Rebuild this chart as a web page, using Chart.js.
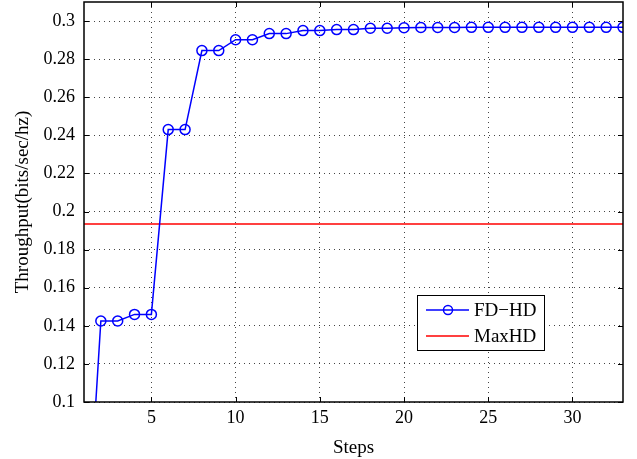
<!DOCTYPE html>
<html>
<head>
<meta charset="utf-8">
<script src="https://cdn.jsdelivr.net/npm/chart.js@4/dist/chart.umd.min.js"></script>
<style>
html,body{margin:0;padding:0;background:#fff;}
#wrap{position:relative;width:637px;height:459px;}
</style>
</head>
<body>
<div id="wrap"><canvas id="c" width="637" height="459"></canvas></div>
<script>
const steps = [1,2,3,4,5,6,7,8,9,10,11,12,13,14,15,16,17,18,19,20,21,22,23,24,25,26,27,28,29,30,31,32,33];
const fdhd = [0,0.1425,0.1425,0.146,0.146,0.243,0.243,0.2845,0.2845,0.2902,0.2902,0.2934,0.2934,0.295,0.295,0.2955,0.2955,0.2962,0.2962,0.2965,0.2966,0.2966,0.2966,0.2967,0.2967,0.2967,0.2967,0.2967,0.2967,0.2967,0.2967,0.2967,0.2967];
const maxHD = 0.1935;
const xTicks = [5,10,15,20,25,30];
const yTicks = [0.1,0.12,0.14,0.16,0.18,0.2,0.22,0.24,0.26,0.28,0.3];
const seriesLabels = ['FD\u2212HD','MaxHD'];
const axisTitles = {x:'Steps', y:'Throughput(bits/sec/hz)'};

const FONT = '"Liberation Serif", "Times New Roman", serif';

const frame = {
  id:'frame',
  afterDraw(chart){
    const {ctx, chartArea:a, scales} = chart;
    ctx.save();
    ctx.strokeStyle = '#000';
    ctx.lineWidth = 1;
    ctx.beginPath();
    xTicks.forEach(v=>{
      const x = Math.round(scales.x.getPixelForValue(v))+0.5;
      ctx.moveTo(x,a.bottom); ctx.lineTo(x,a.bottom-5);
      ctx.moveTo(x,a.top); ctx.lineTo(x,a.top+5);
    });
    yTicks.forEach(v=>{
      const y = Math.round(scales.y.getPixelForValue(v))+0.5;
      ctx.moveTo(a.left,y); ctx.lineTo(a.left+5,y);
      ctx.moveTo(a.right,y); ctx.lineTo(a.right-5,y);
    });
    ctx.stroke();
    ctx.lineWidth = 1.5;
    ctx.strokeRect(a.left, a.top, a.right-a.left, a.bottom-a.top);
    // y title
    ctx.fillStyle='#000';
    ctx.font='19px '+FONT;
    ctx.textAlign='center';
    ctx.textBaseline='middle';
    ctx.save();
    ctx.translate(23,(a.top+a.bottom)/2);
    ctx.rotate(-Math.PI/2);
    ctx.fillText(axisTitles.y,0,0);
    ctx.restore();
    // legend
    const lx=417, ly=295, lw=127, lh=55;
    ctx.fillStyle='#fff';
    ctx.fillRect(lx,ly,lw,lh);
    ctx.lineWidth=1;
    ctx.strokeStyle='#000';
    ctx.strokeRect(lx+0.5,ly+0.5,lw,lh);
    const ds = chart.data.datasets;
    const rows=[310,336];
    rows.forEach((ry,i)=>{
      ctx.strokeStyle = ds[i].borderColor;
      ctx.lineWidth = 1.5;
      ctx.beginPath(); ctx.moveTo(426,ry); ctx.lineTo(469,ry); ctx.stroke();
      if(i===0){
        ctx.beginPath(); ctx.arc(448,ry,4.5,0,Math.PI*2); ctx.stroke();
      }
      ctx.fillStyle='#000';
      ctx.font='19px '+FONT;
      ctx.textBaseline='middle';
      ctx.textAlign='left';
      ctx.fillText(ds[i].label,474,ry+1);
    });
    ctx.restore();
  }
};

new Chart(document.getElementById('c'),{
  type:'line',
  data:{
    datasets:[
      {label:seriesLabels[0], data:steps.map((s,i)=>({x:s,y:fdhd[i]})), borderColor:'#0000ff', backgroundColor:'rgba(0,0,0,0)', borderWidth:1.5, pointRadius:5, pointBorderWidth:1.5, pointBorderColor:'#0000ff', pointBackgroundColor:'rgba(0,0,0,0)', tension:0},
      {label:seriesLabels[1], data:[{x:steps[0],y:maxHD},{x:steps[steps.length-1],y:maxHD}], borderColor:'#ff0000', borderWidth:1.5, pointRadius:0, tension:0}
    ]
  },
  options:{
    responsive:false,
    animation:false,
    devicePixelRatio:1,
    layout:{autoPadding:false, padding:{top:2,right:14,left:0,bottom:0}},
    plugins:{legend:{display:false}, tooltip:{enabled:false}},
    scales:{
      x:{
        type:'linear', min:1, max:33,
        afterBuildTicks(s){ s.ticks = xTicks.map(v=>({value:v})); },
        afterFit(s){ s.height = 57; s.paddingLeft = 0; s.paddingRight = 0; },
        grid:{color:'#444', lineWidth:1, drawTicks:false},
        border:{display:false, dash:[1,4]},
        ticks:{padding:5, color:'#000', font:{family:FONT,size:18}, maxRotation:0, callback:v=>String(v)},
        title:{display:true, text:axisTitles.x, color:'#000', font:{family:FONT,size:19}, padding:{top:6,bottom:0}}
      },
      y:{
        type:'linear', min:0.1, max:0.31,
        afterBuildTicks(s){ s.ticks = yTicks.map(v=>({value:v})); },
        afterFit(s){ s.width = 84; s.paddingTop = 0; s.paddingBottom = 0; },
        grid:{color:'#444', lineWidth:1, drawTicks:false},
        border:{display:false, dash:[1,4]},
        ticks:{padding:9, color:'#000', font:{family:FONT,size:18}, callback:v=>String(parseFloat(v.toFixed(2)))},
        title:{display:false}
      }
    }
  },
  plugins:[frame]
});
</script>
</body>
</html>
